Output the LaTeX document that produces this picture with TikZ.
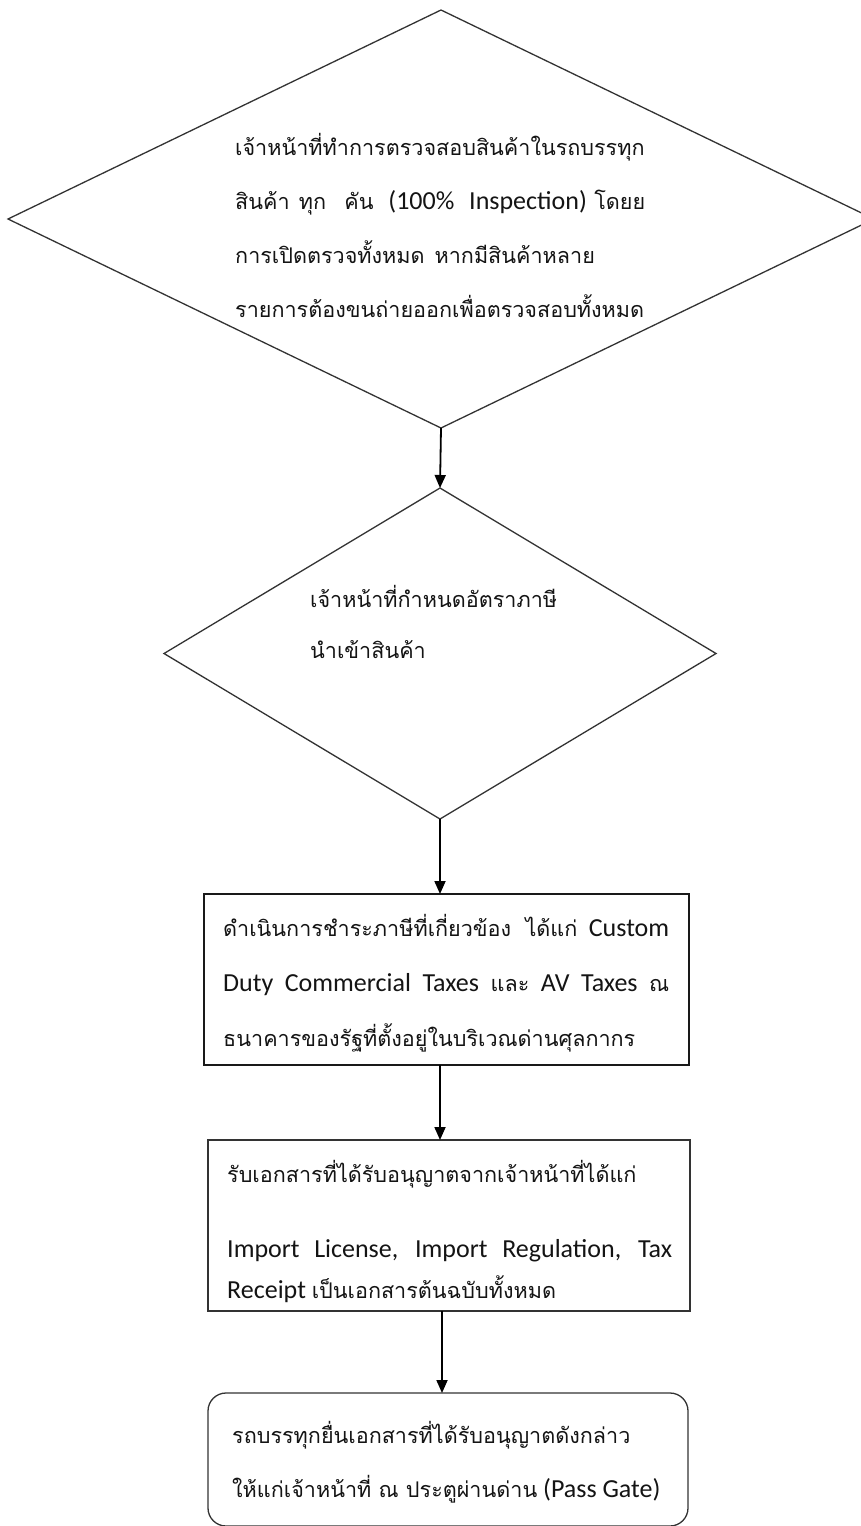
\documentclass[tikz,border=0pt]{standalone}
\usepackage{fontspec}
\setmainfont{Carlito}
\newfontfamily\thaifont[Script=Thai,Scale=0.83]{Loma}
\usetikzlibrary{arrows.meta,shapes.geometric}
% Thai run inside a mixed Thai/Latin line
\newcommand\thx[1]{{\thaifont #1}}

\begin{document}
\begin{tikzpicture}[x=1pt,y=-1pt,
  outline/.style={draw=black!80, line width=1.3pt, inner sep=0pt, outer sep=0pt},
  boxline/.style={draw=black!90, line width=1.8pt, inner sep=0pt, outer sep=0pt},
  flow/.style={draw=black, line width=1.8pt, -{Triangle[length=13pt,width=11pt]}},
  txt/.style={anchor=base west, inner sep=0pt, font=\fontsize{26}{30}\selectfont, text=black!92}]

\useasboundingbox (0,0) rectangle (860,1526);
\fill[white] (0,0) rectangle (860,1526);

% ---- shapes ----
\node[diamond, outline, minimum width=866pt, minimum height=418pt] (insp) at (441,219) {};
\node[diamond, outline, minimum width=552pt, minimum height=331pt] (rate) at (440,653.5) {};
\node[rectangle, boxline, minimum width=485pt, minimum height=171pt] (pay) at (446.5,979.5) {};
\node[rectangle, outline, minimum width=482pt, minimum height=171pt] (docs) at (449,1225.5) {};
\node[rectangle, rounded corners=18pt, outline, minimum width=480pt, minimum height=133pt] (gate) at (448,1459.5) {};

% ---- texts ----
\node[txt] (insp1) at (235,155) {\thx{เจ้าหน้าที่ทำการตรวจสอบสินค้าในรถบรรทุก}};
\node[txt] (insp2) at (235,209) {\makebox[410pt][s]{\thx{สินค้า ทุก~ คัน}~ (100\%~ Inspection) \thx{โดยย}}};
\node[txt] (insp3) at (235,263) {\thx{การเปิดตรวจทั้งหมด\hspace{10pt}หากมีสินค้าหลาย}};
\node[txt] (insp4) at (235,317) {\thx{รายการต้องขนถ่ายออกเพื่อตรวจสอบทั้งหมด}};

\node[txt] (rate1) at (310,607) {\thx{เจ้าหน้าที่กำหนดอัตราภาษี}};
\node[txt] (rate2) at (310,658) {\thx{นำเข้าสินค้า}};

\node[txt] (pay1) at (223,936) {\makebox[446pt][s]{\thx{ดำเนินการชำระภาษีที่เกี่ยวข้อง ได้แก่} Custom}};
\node[txt] (pay2) at (223,991) {\makebox[446pt][s]{Duty Commercial Taxes \thx{และ} AV Taxes \thx{ณ}}};
\node[txt] (pay3) at (223,1046) {\thx{ธนาคารของรัฐที่ตั้งอยู่ในบริเวณด่านศุลกากร}};

\node[txt] (docs1) at (227,1182) {\thx{รับเอกสารที่ได้รับอนุญาตจากเจ้าหน้าที่ได้แก่}};
\node[txt] (docs2) at (227,1257) {\makebox[445pt][s]{Import License, Import Regulation, Tax}};
\node[txt] (docs3) at (227,1298) {Receipt \thx{เป็นเอกสารต้นฉบับทั้งหมด}};

\node[txt] (gate1) at (232,1443) {\thx{รถบรรทุกยื่นเอกสารที่ได้รับอนุญาตดังกล่าว}};
\node[txt] (gate2) at (232,1497) {\thx{ให้แก่เจ้าหน้าที่ ณ ประตูผ่านด่าน} (Pass Gate)};

% ---- connectors ----
\draw[flow] (insp.south) -- (rate.north);
\draw[flow] (rate.south) -- (rate.south |- pay.north);
\draw[flow] (rate.south |- pay.south) -- (rate.south |- docs.north);
\draw[flow] ([xshift=2pt]rate.south |- docs.south) -- ([xshift=2pt]rate.south |- gate.north);
\end{tikzpicture}
\end{document}
